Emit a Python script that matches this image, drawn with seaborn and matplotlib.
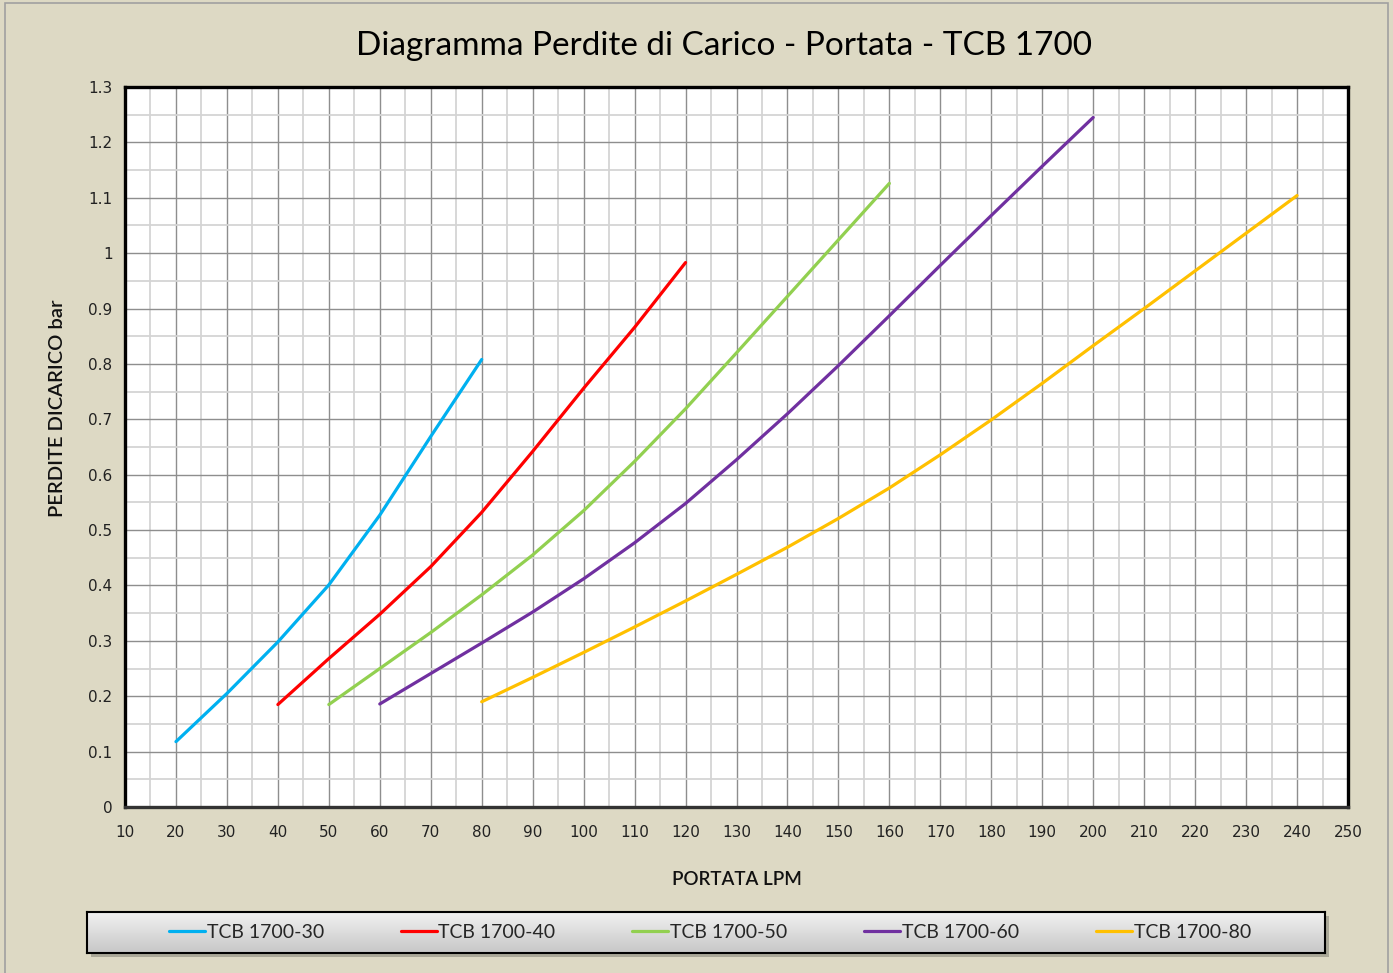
import numpy as np
import pandas as pd
import matplotlib
matplotlib.use("Agg")
import matplotlib.pyplot as plt
from matplotlib.patches import Rectangle
from matplotlib.ticker import MultipleLocator
import seaborn as sns

# portata (LPM) e perdite di carico (bar)
x30 = [20, 30, 40, 50, 60, 70, 80]
y30 = [0.118, 0.205, 0.298, 0.401, 0.527, 0.669, 0.808]

x40 = [40, 50, 60, 70, 80, 90, 100, 110, 120]
y40 = [0.185, 0.268, 0.348, 0.434, 0.532, 0.642, 0.756, 0.866, 0.983]

x50 = [50, 60, 70, 80, 90, 100, 110, 120, 130, 140, 150, 160]
y50 = [0.185, 0.250, 0.315, 0.383, 0.455, 0.535, 0.624, 0.719, 0.820, 0.922, 1.024, 1.126]

x60 = [60, 70, 80, 90, 100, 110, 120, 130, 140, 150, 160, 170, 180, 190, 200]
y60 = [0.186, 0.241, 0.296, 0.352, 0.412, 0.477, 0.548, 0.627, 0.710, 0.797, 0.887,
       0.978, 1.068, 1.157, 1.245]

x80 = [80, 90, 100, 110, 120, 130, 140, 150, 160, 170, 180, 190, 200, 210, 220, 230, 240]
y80 = [0.190, 0.234, 0.279, 0.325, 0.372, 0.420, 0.469, 0.521, 0.576, 0.636, 0.699,
       0.765, 0.833, 0.900, 0.968, 1.036, 1.104]

labels = ["TCB 1700-30", "TCB 1700-40", "TCB 1700-50", "TCB 1700-60", "TCB 1700-80"]
colors = ["#00b0f0", "#ff0000", "#92d050", "#7030a0", "#ffc000"]

sns.set_style("white")
plt.rcParams['font.family'] = ['DejaVu Sans']

W, H = 1393, 973
fig = plt.figure(figsize=(W / 100, H / 100), dpi=100)
bg = "#ddd9c4"
fig.patch.set_facecolor(bg)
fig.patches.append(Rectangle((5 / W, -0.01), 1383 / W, 1 - 3 / H + 0.01, transform=fig.transFigure,
                             fill=False, edgecolor="#a0a0a0", linewidth=1.2, zorder=-2))

ax = fig.add_axes([125 / W, 1 - 807 / H, 1223 / W, 720 / H])
ax.set_facecolor("white")

series = [(x30, y30), (x40, y40), (x50, y50), (x60, y60), (x80, y80)]
for (xs, ys), lab, col in zip(series, labels, colors):
    df = pd.DataFrame({"portata": xs, "perdite": ys})
    sns.lineplot(data=df, x="portata", y="perdite", ax=ax, color=col, linewidth=2.3,
                 label=lab, legend=False, zorder=3)

ax.set_xlim(10, 250)
ax.set_ylim(0, 1.3)
ax.xaxis.set_major_locator(MultipleLocator(10))
ax.xaxis.set_minor_locator(MultipleLocator(5))
ax.yaxis.set_minor_locator(MultipleLocator(0.05))
ax.set_yticks(np.arange(0, 1.31, 0.1))
ax.set_yticklabels(["0"] + ["%g" % v for v in np.round(np.arange(0.1, 1.31, 0.1), 1)])

ax.grid(which="major", color="#8e8e8e", linewidth=1.0, zorder=1)
ax.grid(which="minor", color="#d4d4d4", linewidth=1.3, zorder=0)
ax.set_axisbelow(True)

for s in ["left", "top", "right"]:
    ax.spines[s].set_color("black")
    ax.spines[s].set_linewidth(2.4)
ax.spines["bottom"].set_color("#333333")
ax.spines["bottom"].set_linewidth(2.4)

ax.tick_params(which="major", direction="out", length=5, width=1, color="#8e8e8e",
               labelsize=11, labelcolor="#222222")
ax.tick_params(axis="x", pad=8)
ax.tick_params(axis="y", pad=4)
ax.tick_params(which="minor", length=0)

ax.set_xlabel("PORTATA LPM", fontsize=13.5, family="Lato", fontweight="semibold", color="#111111")
ax.xaxis.set_label_coords(0.5, -(871 - 807) / 720, transform=ax.transAxes)
ax.set_ylabel("PERDITE DICARICO bar", fontsize=14.5, family="Lato", fontweight="semibold", color="#111111")
ax.yaxis.set_label_coords(-59 / 1223, (807 - 408) / 720)

fig.text(724 / W, 1 - 46 / H, "Diagramma Perdite di Carico - Portata - TCB 1700",
         ha="center", va="center", fontsize=24, family="Lato", color="black")

# riquadro legenda con sfumatura grigia
lx, ly, lw, lh = 87 / W, 1 - 953 / H, 1238 / W, 41 / H
shadow = Rectangle((lx + 4 / W, ly - 4 / H), lw, lh, transform=fig.transFigure,
                   facecolor="#aaa898", edgecolor="none", zorder=-1)
fig.patches.append(shadow)
lax = fig.add_axes([lx, ly, lw, lh])
g = np.linspace(0.95, 0.78, 60)
grad = np.repeat(g[:, None, None], 3, axis=2) * np.ones((1, 2, 3))
lax.imshow(grad, aspect="auto", extent=(0, 1, 0, 1), interpolation="bilinear")
lax.set_xticks([])
lax.set_yticks([])
for s in lax.spines.values():
    s.set_color("black")
    s.set_linewidth(1.5)

handles, labs = ax.get_legend_handles_labels()
fig.legend(handles, labs, loc="center", bbox_to_anchor=(lx + lw / 2 + 4 / W, ly + lh / 2),
           ncol=5, frameon=False, prop={"family": "Lato", "size": 14},
           handlelength=1.85, handletextpad=0.1, columnspacing=3.95)

fig.savefig("out.png", dpi=100, facecolor=bg)
